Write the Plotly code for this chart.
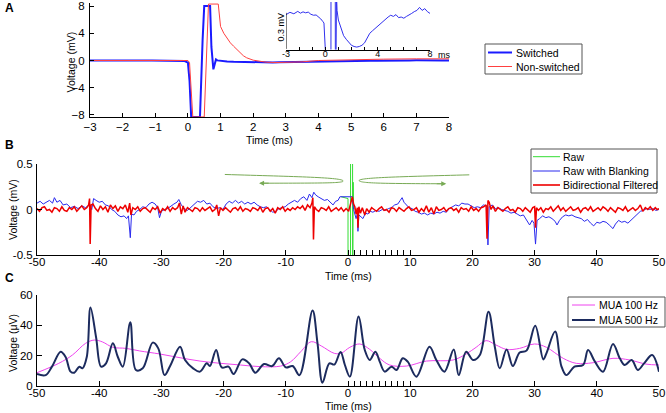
import plotly.graph_objects as go

# ---------------- Panel A data ----------------
A_sw_t = [-3, -2.7, -2.4, -2.1, -1.9, -1.7, -1.5, -1.3, -1.1, -0.9, -0.7, -0.5, -0.35, -0.2, -0.1,
          0.0, 0.05, 0.1, 0.15, 0.37, 0.45, 0.5, 0.68, 0.72, 0.78, 0.82, 0.86, 0.9, 1.0, 1.2, 1.4,
          1.6, 1.8, 2.0, 2.2, 2.4, 2.6, 2.8, 3.0, 3.2, 3.4, 3.6, 3.8, 4.0, 4.2, 4.4, 4.6, 4.8, 5.0,
          5.2, 5.4, 5.6, 5.8, 6.0, 6.2, 6.4, 6.6, 6.8, 7.0, 7.2, 7.4, 7.6, 7.8, 8.0]
A_sw_v = [-0.015, 0.004, -0.008, 0.012, -0.003, 0.008, 0.0, 0.006, -0.012, -0.02, -0.018, -0.035,
          -0.05, -0.07, -0.085, -0.3, -3, -8.3, -8.3, -8.3, 3, 8, 8, 2, -1.3, -0.4, 0.15, 0.02,
          -0.06, -0.13, -0.19, -0.22, -0.25, -0.27, -0.28, -0.285, -0.28, -0.27, -0.25, -0.21,
          -0.17, -0.15, -0.13, -0.11, -0.09, -0.075, -0.05, -0.035, -0.02, -0.03, -0.015, -0.04,
          -0.035, -0.045, -0.03, -0.02, -0.005, 0.01, 0.02, 0.045, 0.02, 0.035, 0.01, -0.005]

A_ns_t = [-3, -2, -1, 0, 0.05, 0.15, 0.5, 0.63, 0.93, 1.0, 1.1, 1.2, 1.3, 1.4, 1.5, 1.6, 1.7, 1.8,
          1.9, 2.0, 2.2, 2.4, 2.7, 3.0, 3.5, 4.0, 5, 6, 7, 8]
A_ns_v = [0, 0, 0, 0, -0.3, -8.3, -8.3, 8.3, 8.3, 5.0, 4.0, 3.3, 2.6, 2.1, 1.6, 1.1, 0.7, 0.4,
          0.2, 0.05, -0.1, -0.25, -0.3, -0.3, -0.2, 0.0, 0.15, 0.2, 0.25, 0.25]

A_xticks = [-3, -2, -1, 0, 1, 2, 3, 4, 5, 6, 7, 8]
A_yticks = [-8, -4, 0, 4, 8]
inset_ticktext = ["-3", "", "", "0", "", "", "", "4", "", "", "", "8"]

# ---------------- Panel B data ----------------
B_raw_t = [-1.1, 0.0, 0.05, 0.37, 0.45, 0.68, 0.75, 0.82, 0.9, 1.0]
B_raw_v = [0.14, 0.12, -8, -8, 8, 8, -1.3, 0.3, 0.05, 0.0]

B_blank_t = [-50, -49.5, -49, -48.5, -48, -47.5, -47.2, -46.8, -46.3, -45.8, -45.2, -44.6, -44,
             -43.4, -42.8, -42.2, -41.6, -41.2, -40.9, -40.5, -40, -39.5, -39, -38.5, -38, -37.5,
             -37, -36.5, -36, -35.6, -35.3, -35.0, -34.8, -34.4, -34, -33.5, -33, -32.5, -32,
             -31.5, -31, -30.6, -30.3, -30, -29.5, -29, -28.5, -28, -27.5, -27.2, -26.8, -26.3,
             -25.8, -25.3, -24.8, -24.2, -23.7, -23.2, -22.7, -22.2, -21.7, -21.2, -20.6, -20.1,
             -19.6, -19.1, -18.6, -18.1, -17.6, -17.1, -16.6, -16.1, -15.6, -15.1, -14.6, -14.1,
             -13.6, -13.1, -12.6, -12.1, -11.6, -11.1, -10.6, -10.1, -9.6, -9.1, -8.6, -8.1, -7.6,
             -7.1, -6.6, -6.2, -5.8, -5.5, -5.2, -4.8, -4.3, -3.8, -3.3, -2.8, -2.4, -2.0, -1.6,
             -1.3, -1.1, 0.7, 0.9, 1.1, 1.3, 1.5, 1.6, 1.75, 2.0, 2.4, 2.8, 3.2, 3.6, 4.0, 4.5,
             5.0, 5.5, 6.0, 6.5, 7.0, 7.5, 8.0, 8.4, 8.7, 9.0, 9.4, 9.8, 10.3, 10.8, 11.3, 11.8,
             12.3, 12.8, 13.3, 13.8, 14.3, 14.8, 15.3, 15.8, 16.3, 16.8, 17.3, 17.8, 18.3, 18.8,
             19.3, 19.8, 20.3, 20.8, 21.3, 21.8, 22.3, 22.5, 22.7, 23.2, 23.7, 24.2, 24.7, 25.2,
             25.7, 26.2, 26.7, 27.2, 27.7, 28.2, 28.7, 29.2, 29.6, 29.9, 30.15, 30.4, 30.8, 31.3,
             31.8, 32.3, 32.8, 33.3, 33.6, 34.0, 34.5, 35.0, 35.5, 36.0, 36.5, 37.0, 37.5, 38.0,
             38.5, 39.0, 39.5, 40.0, 40.5, 41.0, 41.5, 42.0, 42.6, 43.0, 43.5, 44.0, 44.5, 45.0,
             45.5, 46.0, 46.5, 47.0, 47.5, 48.0, 48.5, 49.0, 49.5, 50.0]
B_blank_v = [0.07, 0.09, 0.06, 0.08, 0.1, 0.07, 0.13, 0.08, 0.1, 0.05, 0.06, 0.02, 0.035, 0.01,
             0.04, 0.02, 0.05, 0.0, 0.12, 0.1, 0.08, 0.09, 0.05, 0.04, 0.0, -0.02, -0.06, -0.08,
             -0.07, -0.1, -0.07, -0.31, -0.05, -0.06, -0.02, 0.0, 0.03, 0.02, 0.06, 0.08, 0.06,
             0.02, -0.09, -0.02, 0.0, 0.01, 0.04, 0.06, 0.08, 0.11, 0.05, 0.01, -0.01, 0.02, 0.06,
             0.09, 0.08, 0.1, 0.06, 0.07, 0.03, 0.01, 0.02, 0.0, 0.06, 0.09, 0.07, 0.1, 0.07, 0.09,
             0.06, 0.08, 0.06, 0.08, 0.05, 0.03, 0.02, 0.03, 0.0, -0.03, -0.02, 0.01, 0.02, 0.03,
             0.06, 0.08, 0.1, 0.08, 0.12, 0.14, 0.1, 0.17, 0.13, 0.19, 0.16, 0.14, 0.12, 0.1, 0.11,
             0.07, 0.05, 0.09, 0.1, 0.14, 0.14, 0.14, 0.0, -0.05, -0.1, -0.05, -0.24, -0.06, -0.08,
             -0.1, -0.04, -0.05, -0.02, -0.03, -0.01, -0.02, 0.0, -0.01, 0.01, 0.02, 0.05, 0.06,
             0.1, 0.13, 0.08, 0.05, 0.02, 0.01, -0.02, -0.03, -0.05, -0.04, -0.06, -0.04, -0.05,
             -0.03, -0.04, -0.02, -0.03, 0.01, 0.03, 0.05, 0.04, 0.07, 0.06, 0.06, 0.04, 0.02, 0.03,
             0.02, 0.05, 0.04, -0.39, 0.03, 0.05, 0.01, 0.02, 0.0, -0.01, -0.02, -0.04, -0.03,
             -0.05, -0.07, -0.06, -0.12, -0.17, -0.12, -0.15, -0.38, -0.12, -0.1, -0.07, -0.09,
             -0.08, -0.1, -0.13, -0.17, -0.12, -0.08, -0.06, -0.07, -0.06, -0.08, -0.09, -0.1,
             -0.13, -0.11, -0.15, -0.18, -0.14, -0.15, -0.13, -0.14, -0.17, -0.21, -0.16, -0.12,
             -0.14, -0.13, -0.15, -0.12, -0.08, -0.05, -0.02, -0.01, 0.01, 0.0, 0.01, -0.01, 0.0]

B_filt_t = [-50, -49.6, -49.2, -48.8, -48.4, -48.0, -47.6, -47.2, -46.8, -46.4,
            -46.0, -45.6, -45.2, -44.8, -44.4, -44.0, -43.6, -43.2, -42.8, -42.4,
            -42.0, -41.7, -41.55, -41.45, -41.3, -41.0, -40.6, -40.2, -39.8, -39.4,
            -39.0, -38.6, -38.2, -37.8, -37.4, -37.0, -36.6, -36.2, -35.8, -35.4,
            -35.1, -34.9, -34.6, -34.2, -33.8, -33.4, -33.0, -32.6, -32.2, -31.8,
            -31.4, -31.0, -30.6, -30.2, -29.8, -29.4, -29.0, -28.6, -28.2, -27.8,
            -27.4, -27.1, -26.8, -26.5, -26.2, -25.8, -25.4, -25.0, -24.6, -24.2,
            -23.8, -23.4, -23.0, -22.6, -22.2, -21.8, -21.4, -21.1, -20.8, -20.5,
            -20.1, -19.7, -19.3, -18.9, -18.5, -18.1, -17.7, -17.3, -16.9, -16.5,
            -16.1, -15.7, -15.3, -14.9, -14.5, -14.1, -13.7, -13.3, -12.9, -12.5,
            -12.1, -11.7, -11.3, -10.9, -10.5, -10.1, -9.7, -9.3, -8.9, -8.5,
            -8.1, -7.7, -7.3, -6.9, -6.5, -6.1, -5.8, -5.65, -5.55, -5.4,
            -5.1, -4.7, -4.3, -3.9, -3.5, -3.1, -2.7, -2.3, -1.9, -1.5,
            -1.1, -0.7, -0.3, 0.1, 0.4, 0.7, 0.9, 1.1, 1.3, 1.5,
            1.6, 1.75, 2.0, 2.3, 2.7, 3.0, 3.4, 3.8, 4.2, 4.6,
            5.0, 5.4, 5.8, 6.2, 6.6, 7.0, 7.4, 7.8, 8.2, 8.6,
            9.0, 9.4, 9.8, 10.2, 10.6, 11.0, 11.4, 11.8, 12.2, 12.6,
            13.0, 13.4, 13.8, 14.2, 14.6, 15.0, 15.4, 15.8, 16.2, 16.6,
            17.0, 17.4, 17.8, 18.2, 18.6, 19.0, 19.4, 19.8, 20.2, 20.6,
            21.0, 21.4, 21.8, 22.2, 22.35, 22.5, 22.7, 23.0, 23.3, 23.7,
            24.1, 24.5, 24.9, 25.3, 25.7, 26.1, 26.5, 26.9, 27.3, 27.7,
            28.1, 28.5, 28.9, 29.3, 29.7, 30.0, 30.15, 30.3, 30.6, 31.0,
            31.4, 31.8, 32.2, 32.6, 33.0, 33.4, 33.8, 34.2, 34.6, 35.0,
            35.4, 35.8, 36.2, 36.6, 37.0, 37.4, 37.8, 38.2, 38.6, 39.0,
            39.4, 39.8, 40.2, 40.6, 41.0, 41.4, 41.8, 42.2, 42.6, 43.0,
            43.4, 43.8, 44.2, 44.6, 45.0, 45.4, 45.8, 46.2, 46.6, 47.0,
            47.4, 47.8, 48.2, 48.6, 49.0, 49.4, 49.7, 50.0]
B_filt_v = [0.01, -0.02, 0.02, 0.03, -0.01, 0.0, -0.03, 0.02, 0.01, -0.02,
            0.03, -0.01, -0.02, 0.02, 0.0, 0.03, -0.02, 0.01, 0.04, 0.0,
            0.02, 0.05, 0.12, -0.38, 0.05, 0.06, 0.01, -0.02, 0.04, 0.0,
            0.03, -0.03, 0.05, 0.01, 0.04, -0.02, 0.03, 0.01, 0.05, -0.03,
            0.07, -0.06, 0.02, 0.0, 0.03, -0.02, 0.01, 0.02, -0.01, -0.03,
            0.02, 0.0, 0.03, -0.04, 0.01, -0.01, 0.03, -0.02, 0.02, 0.0,
            0.02, 0.07, -0.05, 0.04, -0.03, 0.02, 0.0, -0.02, 0.02, 0.01,
            -0.02, 0.02, -0.01, 0.01, 0.03, -0.02, 0.0, 0.05, -0.07, 0.02,
            -0.01, 0.02, 0.0, -0.03, 0.01, 0.02, -0.01, 0.03, -0.02, 0.01,
            0.0, -0.02, 0.02, 0.01, -0.01, 0.03, -0.03, 0.01, 0.02, -0.02,
            0.01, -0.04, 0.02, 0.0, 0.03, -0.02, 0.01, -0.01, 0.02, 0.0,
            0.03, 0.01, 0.04, -0.01, 0.05, 0.02, 0.07, 0.13, -0.33, 0.03,
            0.0, -0.02, 0.02, 0.01, -0.01, 0.03, -0.02, 0.0, 0.02, -0.01,
            0.02, -0.02, 0.01, -0.02, 0.05, 0.14, 0.06, 0.03, -0.05, 0.02,
            -0.2, 0.03, -0.04, 0.02, -0.06, 0.01, -0.03, 0.02, 0.0, -0.02,
            0.01, 0.03, -0.01, 0.0, -0.03, 0.02, 0.01, -0.02, 0.02, 0.0,
            -0.02, 0.01, 0.03, -0.01, 0.0, 0.02, -0.03, 0.01, -0.02, 0.04,
            -0.03, 0.02, -0.05, 0.03, -0.01, 0.0, 0.02, -0.02, 0.01, 0.02,
            -0.01, 0.01, -0.03, 0.02, 0.0, 0.01, -0.02, 0.03, -0.01, 0.01,
            -0.02, 0.02, 0.03, 0.05, -0.32, 0.1, 0.08, 0.0, 0.04, -0.02,
            0.02, 0.0, -0.02, 0.01, 0.03, -0.01, 0.0, -0.03, 0.02, 0.01,
            -0.02, 0.02, 0.0, -0.03, 0.02, 0.03, -0.2, 0.02, -0.01, 0.02,
            -0.03, 0.01, 0.0, 0.03, -0.02, 0.01, 0.04, -0.01, 0.02, -0.02,
            0.01, 0.03, -0.01, 0.0, 0.02, -0.03, 0.01, 0.02, -0.01, 0.03,
            -0.02, 0.0, 0.02, -0.01, 0.03, 0.01, -0.02, 0.02, 0.0, -0.03,
            0.02, 0.01, -0.01, 0.03, -0.02, 0.0, 0.02, -0.01, 0.01, 0.05,
            -0.02, 0.02, 0.0, 0.03, -0.01, 0.02, 0.0, 0.01]

BC_xticks = [-50, -40, -30, -20, -10, 0, 10, 20, 30, 40, 50, 1, 2, 3, 4, 5, 6, 7, 8, 9]
BC_xticktext = ["-50", "-40", "-30", "-20", "-10", "0", "10", "20", "30", "40", "50",
                "", "", "", "", "", "", "", "", ""]
B_yticks = [-0.5, 0, 0.5]
B_yticktext = ["-0.5", "0", "0.5"]

# ---------------- Panel C data ----------------
C_500_t = [-50, -48.6, -47.6, -46.2, -45.4, -44.6, -44, -43.2, -42.7, -42, -41.4, -40.5, -39.7,
           -38.9, -37.8, -37, -36.2, -35, -34.1, -33, -31.4, -30.5, -29.5, -28.6, -27, -26.2,
           -24.9, -23.8, -22.7, -22.2, -21.2, -20.3, -19.2, -18.4, -17, -15.9, -14.9, -13.5,
           -12.2, -11.1, -10, -8.9, -7.8, -5.7, -4.9, -4.1, -3, -2.2, -1.2, -0.5, 0.3, 1.7, 2.7,
           3.5, 4.4, 5.1, 5.9, 7, 7.8, 8.8, 9.6, 11, 13.1, 14.2, 15.5, 17, 17.8, 19, 20.1, 21.2,
           22.6, 23.6, 24.4, 25.5, 26.5, 27.6, 28.7, 30.1, 31.4, 31.9, 33.3, 34.3, 35.1, 36.4,
           37.8, 38.6, 39.7, 41, 42.6, 43.7, 44.5, 45.6, 46.6, 47.6, 48.9, 50]
C_500_v = [7.7, 7, 12.6, 22.5, 19, 9.3, 8.6, 12.6, 11.5, 19, 51.7, 32, 12.6, 14.8, 28, 19, 12.6,
           42, 10.4, 11.5, 28.5, 24.7, 7, 13, 25.8, 17, 11.5, 9.3, 14.8, 13, 23.6, 12.1, 12.6,
           7.7, 17.4, 14.8, 8.6, 14.3, 13, 18.1, 12.1, 13, 7, 49.7, 28, 2, 14.8, 14, 22.3, 13.7,
           6, 45.7, 23.6, 17, 22.5, 15.9, 9.3, 12.6, 10.4, 18.1, 15.9, 6, 25.8, 17, 9.3, 24, 7,
           22.5, 17, 20.3, 49, 25.8, 11.5, 24, 13, 21.9, 23.2, 39.7, 17.4, 21.4, 35.8, 13, 7,
           12.6, 13.7, 23.6, 15.9, 9.3, 27.6, 18.1, 13.7, 17, 10.4, 14.8, 20.3, 9.3]

C_100_t = [-50, -46.5, -44.3, -42.2, -40.8, -39.5, -37.8, -35.7, -33.5, -30.3, -27, -23.8, -20.5,
           -17.3, -14.1, -10.8, -9.2, -7.6, -5.9, -4.3, -2.2, -1.1, 0.3, 1.9, 3.5, 5.1, 6.7, 9.4,
           12.6, 16.9, 19, 20.6, 22.2, 23.8, 25.5, 27.6, 30, 31.9, 34.6, 36.7, 39.4, 42.6, 45.3,
           47.9, 50]
C_100_v = [8.6, 14.8, 20.3, 28, 30.2, 29, 25.4, 24.7, 23, 21, 18.5, 16.3, 14.8, 13.7, 12.6, 13,
           15.9, 22.5, 29.1, 26.3, 21.4, 21.5, 25.4, 27.6, 24, 18.1, 13.7, 13, 16.3, 17, 21,
           25.4, 29.8, 26.9, 24, 24.7, 27.6, 25.4, 18.1, 14.8, 15.2, 18.1, 17, 14.3, 13.7]
C_yticks = [0, 20, 40, 60]

# ---------------- Figure ----------------
FONT = "Liberation Sans, Arial, sans-serif"
W, H = 666, 413
def px(x):
    return x / W
def py(y):
    return 1 - y / H

COL_SW, COL_NS = "#1a1aff", "#ff4040"
COL_RAW, COL_BLANK, COL_FILT = "#33dd33", "#2a2aee", "#ee0000"
COL_100, COL_500 = "#ee44ee", "#1c2b5e"

fig = go.Figure()

# Panel A
fig.add_trace(go.Scatter(x=A_sw_t, y=A_sw_v, mode="lines", name="Switched",
                         line=dict(color=COL_SW, width=2), xaxis="x", yaxis="y"))
fig.add_trace(go.Scatter(x=A_ns_t, y=A_ns_v, mode="lines", name="Non-switched",
                         line=dict(color=COL_NS, width=1), xaxis="x", yaxis="y"))
# Inset
fig.add_trace(go.Scatter(x=A_sw_t, y=A_sw_v, mode="lines", name="Switched (zoom)",
                         line=dict(color="#3030ee", width=1), xaxis="x3", yaxis="y3"))
# Panel B
fig.add_trace(go.Scatter(x=B_raw_t, y=B_raw_v, mode="lines", name="Raw",
                         line=dict(color=COL_RAW, width=1), xaxis="x2", yaxis="y2"))
fig.add_trace(go.Scatter(x=B_blank_t, y=B_blank_v, mode="lines", name="Raw with Blanking",
                         line=dict(color=COL_BLANK, width=1), xaxis="x2", yaxis="y2"))
fig.add_trace(go.Scatter(x=B_filt_t, y=B_filt_v, mode="lines", name="Bidirectional Filtered",
                         line=dict(color=COL_FILT, width=1.5), xaxis="x2", yaxis="y2"))
# Panel C
fig.add_trace(go.Scatter(x=C_100_t, y=C_100_v, mode="lines", name="MUA 100 Hz",
                         line=dict(color=COL_100, width=1, shape="spline"),
                         xaxis="x4", yaxis="y4"))
fig.add_trace(go.Scatter(x=C_500_t, y=C_500_v, mode="lines", name="MUA 500 Hz",
                         line=dict(color=COL_500, width=2, shape="spline"),
                         xaxis="x4", yaxis="y4"))

TICKFONT = dict(family=FONT, size=11.5, color="black")
xcommon = dict(showline=True, linecolor="black", linewidth=1, ticks="inside",
               tickcolor="black", ticklen=5, showgrid=False, zeroline=False,
               tickfont=TICKFONT, ticklabelstandoff=-4)
ycommon = dict(showline=True, linecolor="black", linewidth=1, ticks="inside",
               tickcolor="black", ticklen=5, showgrid=False, zeroline=False,
               tickfont=TICKFONT, ticklabelstandoff=1)

fig.update_layout(
    width=W, height=H, margin=dict(l=0, r=0, t=0, b=0, autoexpand=False),
    paper_bgcolor="white", plot_bgcolor="rgba(0,0,0,0)", showlegend=False,
    font=dict(family=FONT, size=11, color="black"),
    xaxis=dict(domain=[px(90), px(449)], range=[-3, 8], anchor="y",
               tickvals=A_xticks, **{**xcommon, "ticklen": 4, "ticklabelstandoff": -1}),
    yaxis=dict(domain=[py(117.3), py(2.7)], range=[-8.35, 8.5], anchor="x",
               tickvals=A_yticks, **{**ycommon, "ticklen": 4, "ticklabelstandoff": 2}),
    xaxis3=dict(domain=[px(286), px(430)], range=[-3, 8], anchor="y3",
                tickvals=A_xticks, ticktext=inset_ticktext,
                **{**xcommon, "ticklen": 3,
                   "tickfont": dict(family=FONT, size=9, color="black")}),
    yaxis3=dict(domain=[py(49.5), py(2)], range=[-0.305, 0.09], anchor="x3",
                showline=False, showticklabels=False, ticks="", showgrid=False,
                zeroline=False),
    xaxis2=dict(domain=[px(37), px(659)], range=[-50, 50], anchor="y2",
                tickvals=BC_xticks, ticktext=BC_xticktext, **xcommon),
    yaxis2=dict(domain=[py(255), py(164)], range=[-0.5, 0.5], anchor="x2",
                tickvals=B_yticks, ticktext=B_yticktext, **ycommon),
    xaxis4=dict(domain=[px(37), px(659)], range=[-50, 50], anchor="y4",
                tickvals=BC_xticks, ticktext=BC_xticktext, **xcommon),
    yaxis4=dict(domain=[py(385.7), py(295)], range=[0, 60], anchor="x4",
                tickvals=C_yticks, **ycommon),
)

# Scale bar of the inset
fig.add_shape(type="line", xref="x3", yref="y3", x0=-3, x1=-3, y0=-0.3, y1=0.0,
              line=dict(color="black", width=1))

# Green arrows (panel B)
ARROW = "#78aa55"
fig.add_shape(type="path", xref="x2", yref="y2",
              path="M -19.8,0.385 C -8,0.36 -0.4,0.352 -0.8,0.31 C -1.1,0.29 -4,0.29 -13.6,0.289",
              line=dict(color=ARROW, width=1))
fig.add_shape(type="path", xref="x2", yref="y2",
              path="M 19.5,0.381 C 8,0.36 1.4,0.35 1.8,0.315 C 2.2,0.29 5,0.285 15.1,0.283",
              line=dict(color=ARROW, width=1))
fig.add_annotation(x=-14.3, y=0.289, xref="x2", yref="y2", ax=-12.5, ay=0.289,
                   axref="x2", ayref="y2", showarrow=True, arrowhead=2, arrowsize=1,
                   arrowwidth=1, arrowcolor=ARROW, text="")
fig.add_annotation(x=15.8, y=0.283, xref="x2", yref="y2", ax=14.0, ay=0.283,
                   axref="x2", ayref="y2", showarrow=True, arrowhead=2, arrowsize=1,
                   arrowwidth=1, arrowcolor=ARROW, text="")

def note(text, x, y, size=10.5, angle=0, bold=False, xanchor="center", yanchor="middle"):
    fig.add_annotation(text=f"<b>{text}</b>" if bold else text, x=x, y=y, xref="paper",
                       yref="paper", showarrow=False, textangle=angle,
                       font=dict(family=FONT, size=size, color="black"),
                       xanchor=xanchor, yanchor=yanchor)

# Legends (drawn in MATLAB style: framed box, short line samples)
def legend_box(x0, y0, x1, y1, entries, line_x0, line_x1, text_x, row_ys):
    fig.add_shape(type="rect", xref="paper", yref="paper", x0=px(x0), x1=px(x1),
                  y0=py(y1), y1=py(y0), line=dict(color="#555", width=1), fillcolor="white",
                  layer="above")
    for (label, color, width), ry in zip(entries, row_ys):
        fig.add_shape(type="line", xref="paper", yref="paper", x0=px(line_x0), x1=px(line_x1),
                      y0=py(ry), y1=py(ry), line=dict(color=color, width=width), layer="above")
        note(label, px(text_x), py(ry), size=10.5, xanchor="left")

legend_box(485, 44, 582, 74, [("Switched", COL_SW, 2), ("Non-switched", COL_NS, 1)],
           488, 512, 514, [52.5, 66.5])
legend_box(531, 149, 657, 193, [("Raw", COL_RAW, 1), ("Raw with Blanking", COL_BLANK, 1),
                                ("Bidirectional Filtered", COL_FILT, 1.6)],
           533, 560, 561, [156.7, 171, 185])
legend_box(568, 297, 665, 327, [("MUA 100 Hz", COL_100, 1), ("MUA 500 Hz", COL_500, 2)],
           572, 595, 596.5, [305, 320])

# Panel letters
note("A", px(9), py(8), size=12, bold=True)
note("B", px(9), py(145), size=12, bold=True)
note("C", px(9), py(278), size=12, bold=True)

# Axis titles
note("Time (ms)", px(269.5), py(140))
note("Time (ms)", px(348), py(276))
note("Time (ms)", px(348), py(406))
note("Voltage (mV)", px(70.5), py(62), angle=-90)
note("Voltage (mV)", px(13), py(210), angle=-90)
note("Voltage (μV)", px(13), py(343), angle=-90)

# Inset labels
note("0.3 mV", px(280.5), py(27), size=9, angle=-90)
note("ms", px(436), py(55.5), size=9, xanchor="left")

# the page's default body margin would shift the 666x413 figure; remove it
fig.write_html("out.html",
               config={"displayModeBar": False},
               post_script="document.body.style.margin='0px';"
                           "document.body.style.overflow='hidden';")
